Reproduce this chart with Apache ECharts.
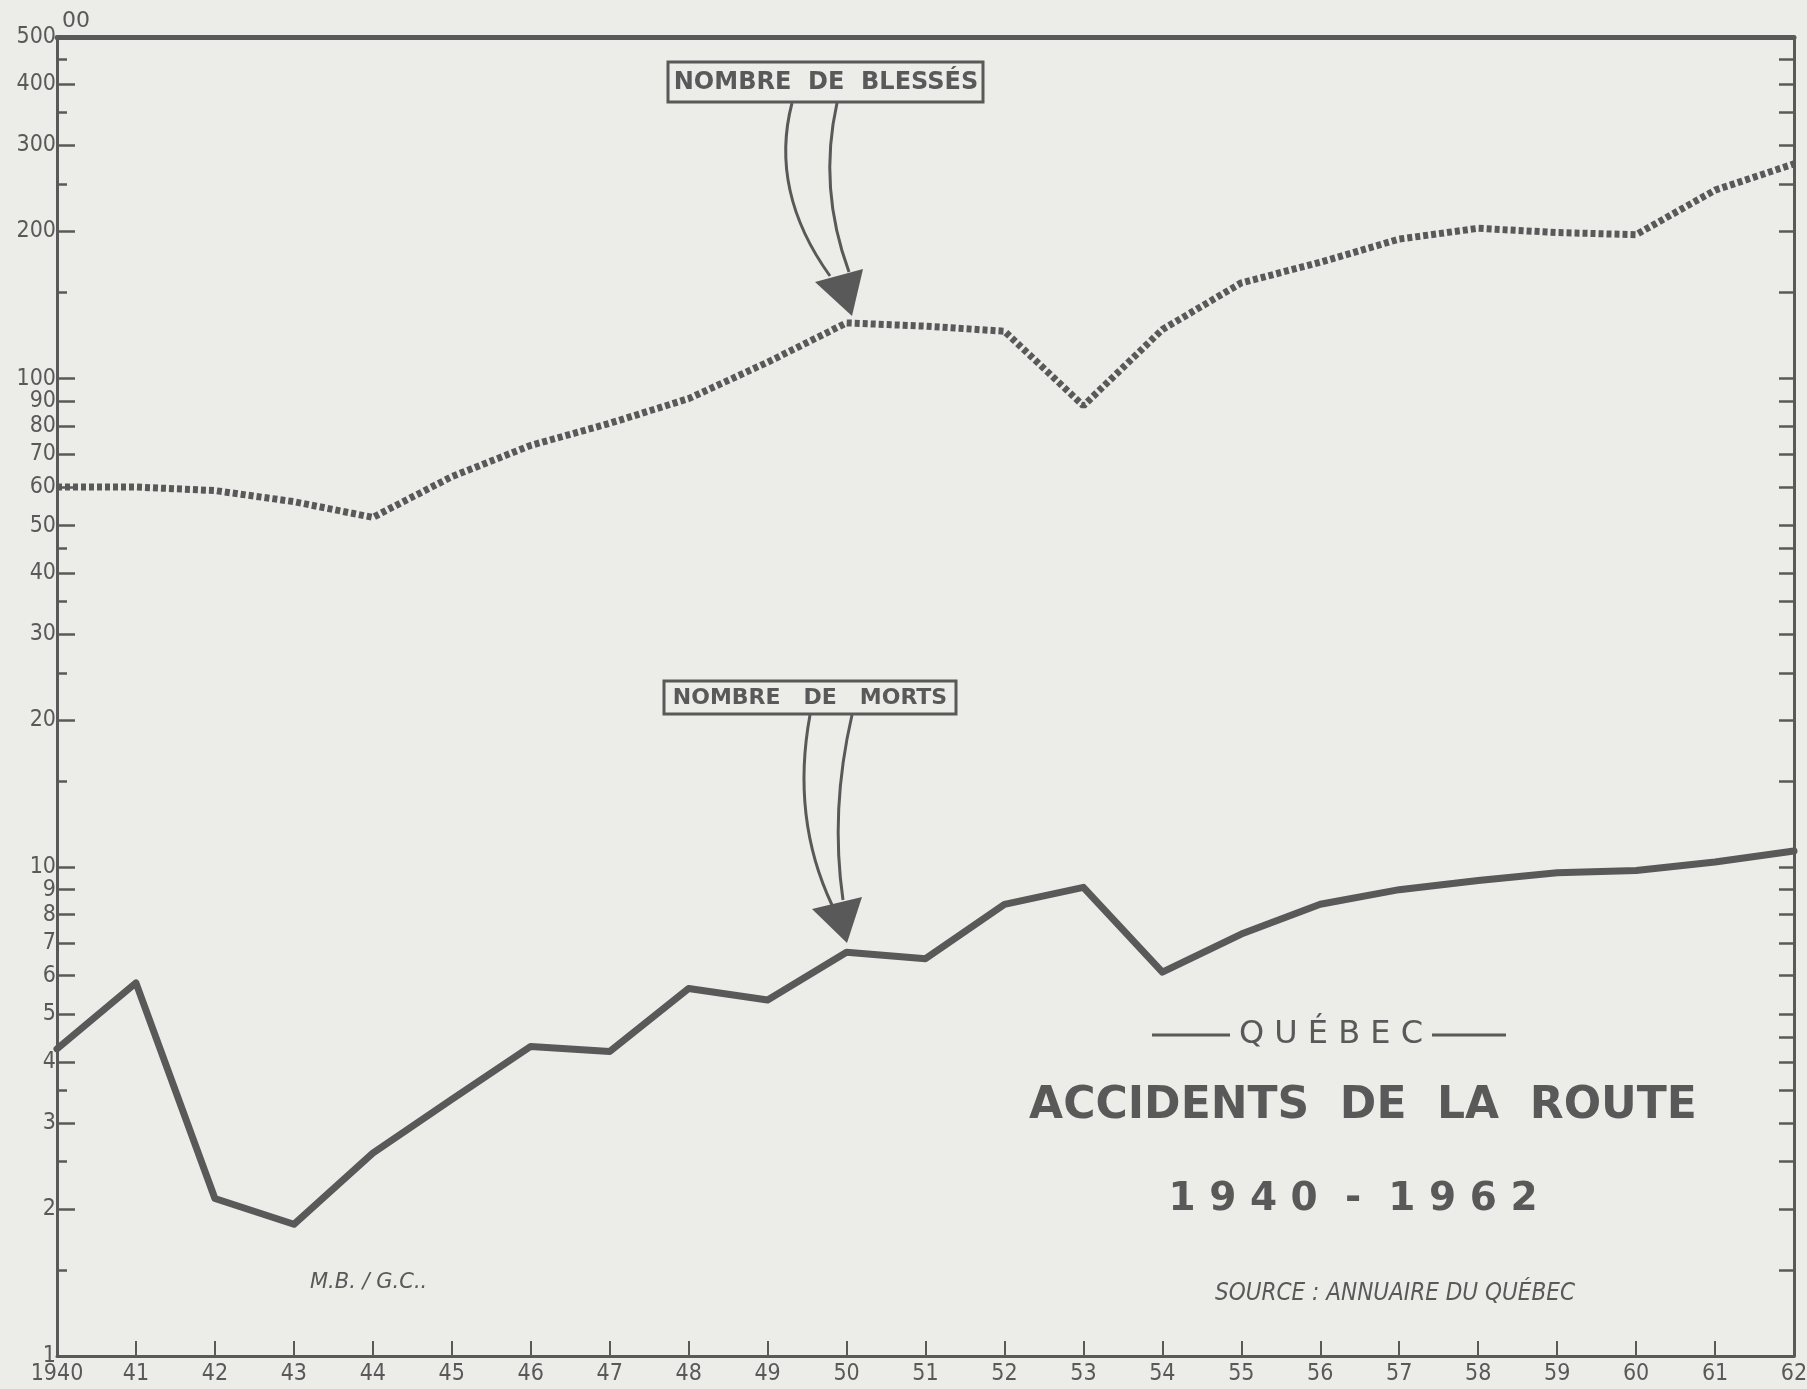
<!DOCTYPE html>
<html><head><meta charset="utf-8">
<script src="https://cdn.jsdelivr.net/npm/echarts@6/dist/echarts.min.js"></script>
<style>html,body{margin:0;padding:0;background:#ecece9;} #c{width:1807px;height:1389px;}</style>
</head><body><div id="c"></div>
<script>
// ---- data (values in hundreds) ----
const years = ['1940','41','42','43','44','45','46','47','48','49','50','51','52','53','54','55','56','57','58','59','60','61','62'];
const blesses = [60, 60, 59, 56, 52, 63, 73, 81, 91, 108, 130, 128, 125, 88, 126, 157, 173, 193, 203, 199, 197, 243, 275];
const morts = [4.25, 5.8, 2.1, 1.86, 2.6, 3.35, 4.3, 4.2, 5.65, 5.35, 6.7, 6.5, 8.4, 9.1, 6.1, 7.3, 8.4, 9.0, 9.4, 9.75, 9.85, 10.25, 10.8];
const yLabelValues = [1,2,3,4,5,6,7,8,9,10,20,30,40,50,60,70,80,90,100,200,300,400,500];
const yMinorValues = [1.5,2.5,3.5,15,25,35,45,150,250,350,450];
const yRightValues = [1,1.5,2,2.5,3,3.5,4,4.5,5,6,7,8,9,10,15,20,25,30,35,40,45,50,60,70,80,90,100,150,200,250,300,350,400,450,500];

const INK = '#595959';
const chart = echarts.init(document.getElementById('c'), null, {renderer:'canvas'});
const axisFont = "'DejaVu Sans Condensed','Liberation Sans',sans-serif";
const logBase = {type:'log', logBase:10, min:1, max:500, splitLine:{show:false}};
const center = {textAlign:'center', textVerticalAlign:'middle', align:'center', verticalAlign:'middle', fill:INK};

chart.setOption({
  backgroundColor:'#ecece9',
  animation:false,
  grid:{left:57, right:13, top:37, bottom:33, outerBoundsMode:'none', containLabel:false},
  xAxis:[
    {type:'category', data:years, boundaryGap:false, position:'bottom',
     axisLine:{lineStyle:{color:INK, width:3}},
     axisTick:{inside:true, length:15, interval:0, lineStyle:{color:INK, width:2}},
     axisLabel:{interval:0, color:INK, fontSize:23, margin:7, fontFamily:axisFont},
     splitLine:{show:false}},
    {type:'category', data:years, boundaryGap:false, position:'top',
     axisLine:{lineStyle:{color:INK, width:5}}, axisTick:{show:false}, axisLabel:{show:false}, splitLine:{show:false}}
  ],
  yAxis:[
    Object.assign({}, logBase, {position:'left',
      axisLine:{show:true, lineStyle:{color:INK, width:3}},
      axisTick:{show:true, inside:true, length:18, customValues:yLabelValues, lineStyle:{color:INK, width:2.5}},
      axisLabel:{customValues:yLabelValues, color:INK, fontSize:23, margin:1, fontFamily:axisFont}}),
    Object.assign({}, logBase, {position:'left',
      axisLine:{show:false},
      axisTick:{show:true, inside:true, length:10, customValues:yMinorValues, lineStyle:{color:INK, width:2.5}},
      axisLabel:{show:false}}),
    Object.assign({}, logBase, {position:'right',
      axisLine:{show:true, lineStyle:{color:INK, width:3}},
      axisTick:{show:true, inside:true, length:15, customValues:yRightValues, lineStyle:{color:INK, width:2.5}},
      axisLabel:{show:false}})
  ],
  series:[
    {name:'Nombre de blessés', type:'line', data:blesses, xAxisIndex:0, yAxisIndex:0, symbol:'none',
     lineStyle:{color:INK, width:7, type:[5,3], cap:'butt'}},
    {name:'Nombre de morts', type:'line', data:morts, xAxisIndex:0, yAxisIndex:0, symbol:'none',
     lineStyle:{color:INK, width:7, join:'round', cap:'round'}}
  ],
  graphic:[
    {type:'text', style:Object.assign({text:'00', x:76, y:21, font:"22px 'DejaVu Sans'"}, center)},
    // annotation: blessés
    {type:'rect', shape:{x:668, y:62, width:315, height:40}, style:{fill:'none', stroke:INK, lineWidth:3}},
    {type:'text', style:Object.assign({text:'NOMBRE  DE  BLESSÉS', x:826, y:83, font:"bold 24px 'DejaVu Sans'"}, center)},
    {type:'bezierCurve', shape:{x1:792, y1:103, x2:830, y2:276, cpx1:769, cpy1:191}, style:{stroke:INK, lineWidth:3, fill:null}},
    {type:'bezierCurve', shape:{x1:837, y1:103, x2:849, y2:272, cpx1:818, cpy1:188}, style:{stroke:INK, lineWidth:3, fill:null}},
    {type:'polygon', shape:{points:[[815,282],[863,269],[852,316]]}, style:{fill:INK}},
    // annotation: morts
    {type:'rect', shape:{x:664, y:681, width:292, height:33}, style:{fill:'none', stroke:INK, lineWidth:3}},
    {type:'text', style:Object.assign({text:'NOMBRE   DE   MORTS', x:810, y:698, font:"bold 22px 'DejaVu Sans'"}, center)},
    {type:'bezierCurve', shape:{x1:810, y1:715, x2:832, y2:905, cpx1:791, cpy1:818}, style:{stroke:INK, lineWidth:3, fill:null}},
    {type:'bezierCurve', shape:{x1:852, y1:715, x2:843, y2:900, cpx1:830, cpy1:810}, style:{stroke:INK, lineWidth:3, fill:null}},
    {type:'polygon', shape:{points:[[812,909],[862,897],[847,943]]}, style:{fill:INK}},
    // title block
    {type:'line', shape:{x1:1152, y1:1035, x2:1230, y2:1035}, style:{stroke:INK, lineWidth:3}},
    {type:'line', shape:{x1:1432, y1:1035, x2:1506, y2:1035}, style:{stroke:INK, lineWidth:3}},
    {type:'text', style:Object.assign({text:'Q U É B E C', x:1331, y:1035, font:"32px 'DejaVu Sans'"}, center)},
    {type:'text', style:Object.assign({text:'ACCIDENTS  DE  LA  ROUTE', x:1363, y:1107, font:"bold 44px 'DejaVu Sans'"}, center)},
    {type:'text', style:Object.assign({text:'1 9 4 0  -  1 9 6 2', x:1353, y:1200, font:"bold 39px 'DejaVu Sans'"}, center)},
    {type:'text', style:Object.assign({text:'SOURCE : ANNUAIRE DU QUÉBEC', x:1395, y:1294, font:"italic 24px 'DejaVu Sans Condensed'"}, center)},
    {type:'text', style:{text:'M.B. / G.C..', x:310, y:1283, fill:INK, font:"italic 21px 'DejaVu Sans'", textAlign:'left', textVerticalAlign:'middle', align:'left', verticalAlign:'middle'}}
  ]
});
</script></body></html>
